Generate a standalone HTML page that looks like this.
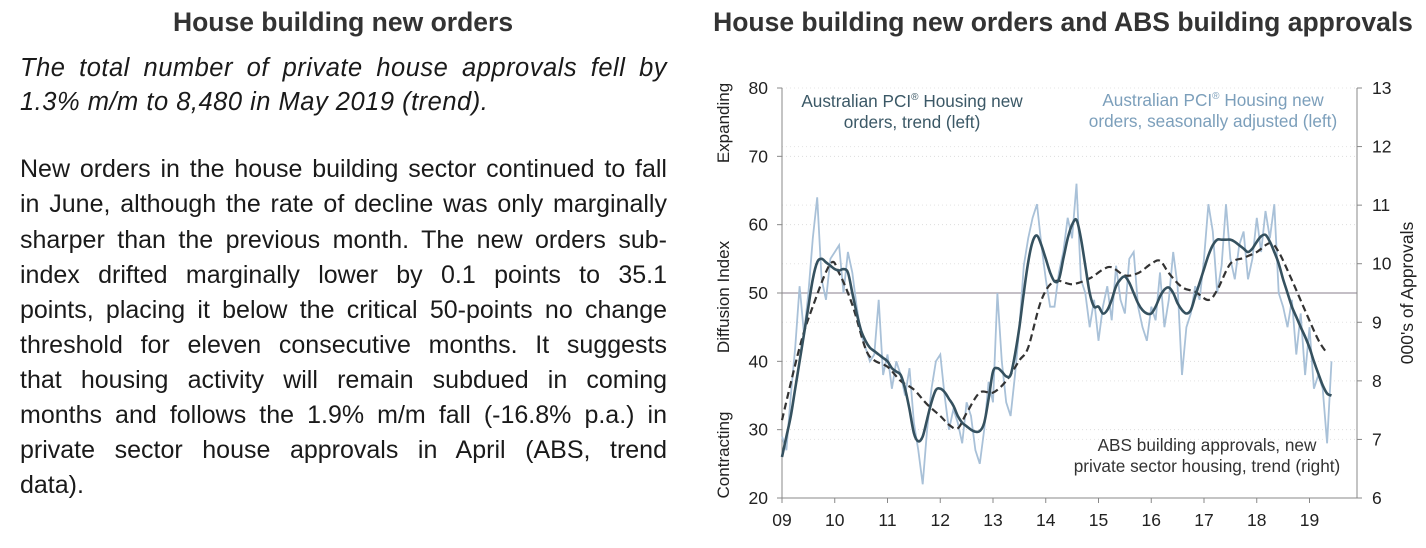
<!DOCTYPE html>
<html><head><meta charset="utf-8">
<style>
html,body{margin:0;padding:0;background:#fff;}
body{width:1426px;height:548px;position:relative;overflow:hidden;font-family:"Liberation Sans",Arial,sans-serif;color:#1a1a1a;}
.t{position:absolute;white-space:nowrap;}
.line{position:absolute;left:20px;width:647px;font-size:25px;text-align:justify;text-align-last:justify;white-space:nowrap;}
.last{text-align-last:left;}
.it{font-style:italic;font-size:25.5px;letter-spacing:0.5px;}
</style></head><body>
<div class="t" style="left:0;width:686px;top:7px;text-align:center;font-weight:bold;font-size:26.5px;color:#333;">House building new orders</div>
<div class="line it" style="top:54px;">The total number of private house approvals fell by</div>
<div class="line it last" style="top:88px;">1.3% m/m to 8,480 in May 2019 (trend).</div>
<div>
<div class="line" style="top:155px;">New orders in the house building sector continued to fall</div>
<div class="line" style="top:190px;">in June, although the rate of decline was only marginally</div>
<div class="line" style="top:226px;">sharper than the previous month. The new orders sub-</div>
<div class="line" style="top:261px;">index drifted marginally lower by 0.1 points to 35.1</div>
<div class="line" style="top:296px;">points, placing it below the critical 50-points no change</div>
<div class="line" style="top:331px;">threshold for eleven consecutive months. It suggests</div>
<div class="line" style="top:366px;">that housing activity will remain subdued in coming</div>
<div class="line" style="top:401px;">months and follows the 1.9% m/m fall (-16.8% p.a.) in</div>
<div class="line" style="top:436px;">private sector house approvals in April (ABS, trend</div>
<div class="line last" style="top:471px;">data).</div>
</div>
<div class="t" style="left:700px;width:726px;top:7px;text-align:center;font-weight:bold;font-size:26.5px;color:#333;">House building new orders and ABS building approvals</div>
<svg id="chart" width="1426" height="548" style="position:absolute;left:0;top:0;" xmlns="http://www.w3.org/2000/svg"></svg>
<script>
const yearLabels=["09","10","11","12","13","14","15","16","17","18","19"];
const leftTicks=[20,30,40,50,60,70,80];
const rightTicks=[6,7,8,9,10,11,12,13];
const trend=[26,29,32,36,40,44,48,52,54.5,55,54.5,54,
53.5,53.3,53.5,53,50,47,44.5,43,42,41.5,41,40.5,
40,39,38.5,38,36,33,29.5,28.3,29,31.5,34,35.8,
36,35.5,34.5,33.5,32,31,30.5,30,29.7,29.8,31,34.5,
38.5,39,38.5,37.8,38,41,45,50,54.5,57.5,58.4,57,
55,53,51.7,52,55,58,60,60.7,58,54,50,48,
48,47,47.5,49,51,52,52.4,51.5,50,48.5,47.5,47,
47,48,49.5,50.5,50.8,50,48.5,47.5,47,47.5,49.5,51.5,
53.5,55.5,57,57.8,57.8,57.8,57.8,57.5,57,56.5,56,56.5,
57.5,58.3,58.5,57.5,56,54.3,52,50,48,46.5,45,43.6,
42,40,38.2,36.5,35.3,35];
const sa=[29,27,35,42,51,44,50,58,64,52,49,55,
56,57,50,56,53,48,44,42,40,41,49,38,
41,36,40,38,35,39,31,27,22,30,36,40,
41,35,30,33,31,28,34,32,27,25,30,37,
34,50,40,34,32,38,45,54,58,61,63,57,
52,48,48,53,56,61,58,66,52,50,45,49,
43,48,51,46,54,49,47,55,56,48,45,43,
48,46,53,45,49,56,51,38,45,47,51,49,
55,63,59,50,54,63,55,52,57,59,52,55,
61,56,62,58,63,50,48,45,49,41,47,38,
45,36,38,36,28,40];
const absMonths=[0,4,7,11,13,16,19,21,24,27,30,33,36,38,40,42,45,48,51,54,56,59,62,66,70,73,75,78,81,84,86,88,91,94,97,99,102,105,108,111,113,116,119,122,124];
const absValues=[7.33,8.57,9.27,10.0,9.84,9.3,8.55,8.35,8.24,8.0,7.85,7.6,7.4,7.25,7.19,7.45,7.8,7.8,8.0,8.35,8.57,9.38,9.7,9.65,9.75,9.9,9.94,9.8,9.84,10.0,10.05,9.84,9.6,9.52,9.38,9.55,10.0,10.1,10.2,10.35,10.2,9.72,9.2,8.7,8.47];

const svg=document.getElementById('chart');
const NS='http://www.w3.org/2000/svg';
const X0=782,YW=52.75,YT=88,YB=498,XR=1357;
const xm=m=>X0+m*YW/12;
const yL=v=>YB-(v-20)/60*(YB-YT);
const yR=v=>YB-(v-6)/7*(YB-YT);
function mk(tag,attrs,parent){const e=document.createElementNS(NS,tag);for(const k in attrs)e.setAttribute(k,attrs[k]);(parent||svg).appendChild(e);return e;}
function txt(s,x,y,attrs){const e=mk('text',Object.assign({x:x,y:y,'font-family':'Liberation Sans, Arial, sans-serif'},attrs));e.textContent=s;return e;}
function smooth(pts){let d='M'+pts[0][0].toFixed(1)+','+pts[0][1].toFixed(1);for(let i=0;i<pts.length-1;i++){const p0=pts[i-1]||pts[i],p1=pts[i],p2=pts[i+1],p3=pts[i+2]||p2;const c1=[p1[0]+(p2[0]-p0[0])/6,p1[1]+(p2[1]-p0[1])/6],c2=[p2[0]-(p3[0]-p1[0])/6,p2[1]-(p3[1]-p1[1])/6];d+='C'+c1[0].toFixed(1)+','+c1[1].toFixed(1)+' '+c2[0].toFixed(1)+','+c2[1].toFixed(1)+' '+p2[0].toFixed(1)+','+p2[1].toFixed(1);}return d;}

const grid=mk('g',{});


leftTicks.forEach(v=>mk('line',{x1:X0,x2:XR,y1:yL(v),y2:yL(v),stroke:'#ddd','stroke-dasharray':'1,3'},grid));
rightTicks.forEach(v=>mk('line',{x1:X0,x2:XR,y1:yR(v),y2:yR(v),stroke:'#e4e4e4','stroke-dasharray':'1,3'},grid));
const ref=mk('line',{x1:X0,x2:XR,y1:yL(50),y2:yL(50),stroke:'#8a7f8e','stroke-width':1});


const ax=mk('g',{stroke:'#888','stroke-width':1});


mk('line',{x1:X0,x2:X0,y1:YT,y2:YB},ax);
mk('line',{x1:XR,x2:XR,y1:YT,y2:YB},ax);
mk('line',{x1:X0-5,x2:XR,y1:YB,y2:YB},ax);
leftTicks.forEach(v=>{mk('line',{x1:X0-5,x2:X0,y1:yL(v),y2:yL(v)},ax);
 const t=txt(String(v),768,yL(v)+6,{'font-size':17.5,'text-anchor':'end',fill:'#222'});
 
 });
rightTicks.forEach(v=>{mk('line',{x1:XR,x2:XR+5,y1:yR(v),y2:yR(v)},ax);
 const t=txt(String(v),1372,yR(v)+6,{'font-size':17.5,fill:'#222'});
 
 });
yearLabels.forEach((s,i)=>{const x=xm(i*12);mk('line',{x1:x,x2:x,y1:YB,y2:YB+5},ax);
 const t=txt(s,x,YB+28,{'font-size':17.5,'text-anchor':'middle',fill:'#222'});
 
 });
[['Expanding',123,'axis-label-expanding'],['Diffusion Index',297,'y-axis-title-left'],['Contracting',455,'axis-label-contracting']].forEach(a=>{
 const t=txt(a[0],0,0,{'font-size':17,'text-anchor':'middle',fill:'#222',transform:'translate(729,'+a[1]+') rotate(-90)'});
 
 });
const rt=txt("000's of Approvals",0,0,{'font-size':17.5,'text-anchor':'middle',fill:'#222',transform:'translate(1413,293) rotate(-90)'});


const saPath=mk('polyline',{points:sa.map((v,i)=>xm(i).toFixed(1)+','+yL(v).toFixed(1)).join(' '),fill:'none',stroke:'#a9c1d8','stroke-width':1.8});


const absPath=mk('path',{d:smooth(absMonths.map((m,i)=>[xm(m),yR(absValues[i])])),fill:'none',stroke:'#333','stroke-width':2.2,'stroke-dasharray':'7,4'});


const trPath=mk('path',{d:smooth(trend.map((v,i)=>[xm(i),yL(v)])),fill:'none',stroke:'#35515f','stroke-width':2.6});


function ann(lines,cx,y0,color,name){const g=mk('g',{});
 lines.forEach((l,i)=>{const t=mk('text',{x:cx,y:y0+i*21,'font-size':17.2,'text-anchor':'middle',fill:color,'font-family':'Liberation Sans, Arial, sans-serif'},g);t.innerHTML=l;});}
ann(['Australian PCI<tspan font-size="10" dy="-7">®</tspan><tspan dy="7"> Housing new</tspan>','orders, trend (left)'],912,107,'#3b5866','label-pci-trend');
ann(['Australian PCI<tspan font-size="10" dy="-7">®</tspan><tspan dy="7"> Housing new</tspan>','orders, seasonally adjusted (left)'],1213,106,'#7c9fbb','label-pci-sa');
ann(['ABS building approvals, new','private sector housing, trend (right)'],1207,451,'#333','label-abs-approvals');
</script>
</body></html>
